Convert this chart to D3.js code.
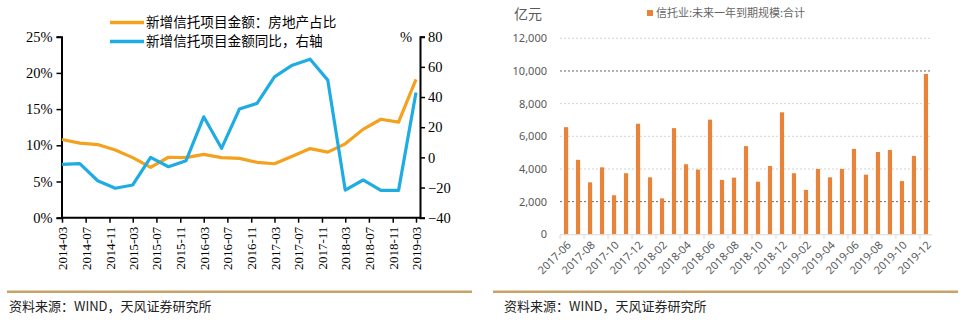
<!DOCTYPE html>
<html><head><meta charset="utf-8">
<script src="https://cdn.jsdelivr.net/npm/d3@7"></script>
<style>
html,body{margin:0;padding:0;background:#fff;}
svg{display:block;}
.serif text, text.serif{font-family:'Liberation Serif','Times New Roman',serif !important;}
</style></head>
<body>
<svg id="c" width="967" height="328"></svg>
<script>
// ---- Left chart data (quarterly) ----
const leftDates = ["2014-03","2014-06","2014-09","2014-12","2015-03","2015-06","2015-09","2015-12","2016-03","2016-06","2016-09","2016-12","2017-03","2017-06","2017-09","2017-12","2018-03","2018-06","2018-09","2018-12","2019-03"];
const realEstateShare = [10.8,10.3,10.1,9.35,8.3,6.95,8.35,8.3,8.75,8.3,8.2,7.65,7.45,8.5,9.55,9.05,10.2,12.2,13.6,13.2,19.1];
const newTrustYoY = [-4.6,-4.2,-15.5,-20.5,-18.3,0,-6.2,-2.2,26.9,6.0,32.0,35.8,53.4,61.1,65.1,51.2,-21.7,-15,-21.9,-21.9,43];
const leftTickLabels = ["2014-03","2014-07","2014-11","2015-03","2015-07","2015-11","2016-03","2016-07","2016-11","2017-03","2017-07","2017-11","2018-03","2018-07","2018-11","2019-03"];
const leftYTicks = [0,5,10,15,20,25];
const rightYTicks = [-40,-20,0,20,40,60,80];
const leftSeriesNames = ["新增信托项目金额：房地产占比","新增信托项目金额同比，右轴"];

// ---- Right chart data (monthly) ----
const barMonths = ["2017-06","2017-07","2017-08","2017-09","2017-10","2017-11","2017-12","2018-01","2018-02","2018-03","2018-04","2018-05","2018-06","2018-07","2018-08","2018-09","2018-10","2018-11","2018-12","2019-01","2019-02","2019-03","2019-04","2019-05","2019-06","2019-07","2019-08","2019-09","2019-10","2019-11","2019-12"];
const maturityValues = [6560,4560,3180,4100,2390,3740,6770,3490,2200,6500,4290,3960,7020,3330,3470,5400,3220,4180,7470,3740,2720,4000,3490,4000,5230,3650,5040,5160,3260,4800,9820];
const barYTicks = [0,2000,4000,6000,8000,10000,12000];
const barSeriesName = "信托业:未来一年到期规模:合计";
const sourceText = "资料来源：WIND，天风证券研究所";

const svg = d3.select("#c");
const parse = d3.timeParse("%Y-%m");
const ORANGE = "#F4A11E", BLUE = "#1FACE2", BAR = "#E8833A";

// ================= LEFT CHART =================
{
  const g = svg.append("g");
  const x = d3.scaleTime().domain([parse("2014-03"), parse("2019-03")]).range([62, 416]);
  const yL = d3.scaleLinear().domain([0, 25]).range([217.7, 36.7]);
  const yR = d3.scaleLinear().domain([-40, 80]).range([217.7, 36.7]);

  // left axis
  const axL = g.append("g").attr("class","serif").attr("transform","translate(61.5,0)")
    .call(d3.axisLeft(yL).tickValues(leftYTicks).tickSize(5).tickFormat(d => d + "%"));
  axL.select(".domain").attr("stroke","#000").attr("stroke-width",2);
  axL.selectAll(".tick line").attr("stroke","#000").attr("stroke-width",1.5);
  axL.selectAll("text").attr("font-size",14.5).attr("fill","#000").attr("x",-9);

  // right axis
  const axR = g.append("g").attr("class","serif").attr("transform","translate(420,0)")
    .call(d3.axisRight(yR).tickValues(rightYTicks).tickSize(5));
  axR.select(".domain").attr("stroke","#000").attr("stroke-width",2);
  axR.selectAll(".tick line").attr("stroke","#000").attr("stroke-width",1.5);
  axR.selectAll("text").attr("font-size",14.5).attr("fill","#000").attr("x",8);
  g.append("text").attr("class","serif").attr("x",412).attr("y",41.5).attr("text-anchor","end")
    .attr("font-size",14.5).text("%");

  // bottom axis
  const axB = g.append("g").attr("class","serif").attr("transform","translate(0,217.7)")
    .call(d3.axisBottom(x).tickValues(leftTickLabels.map(parse)).tickSize(5).tickFormat(d3.timeFormat("%Y-%m")));
  axB.select(".domain").remove();
  g.append("line").attr("x1",61).attr("x2",421).attr("y1",217.7).attr("y2",217.7).attr("stroke","#000").attr("stroke-width",2);
  axB.selectAll(".tick line").attr("stroke","#000").attr("stroke-width",1.5);
  axB.selectAll("text").attr("font-size",13).attr("fill","#000")
    .attr("transform","rotate(-90)").attr("text-anchor","end").attr("x",-9).attr("y",0).attr("dy","0.35em");

  const lineL = d3.line().x((d,i) => x(parse(leftDates[i]))).y(d => yL(d));
  const lineR = d3.line().x((d,i) => x(parse(leftDates[i]))).y(d => yR(d));
  g.append("path").datum(realEstateShare).attr("d",lineL).attr("fill","none")
    .attr("stroke",ORANGE).attr("stroke-width",3.2).attr("stroke-linejoin","round");
  g.append("path").datum(newTrustYoY).attr("d",lineR).attr("fill","none")
    .attr("stroke",BLUE).attr("stroke-width",3.2).attr("stroke-linejoin","round");

  // legend
  const cols = [ORANGE, BLUE];
  leftSeriesNames.forEach((name,i) => {
    const yy = 22.5 + i*19;
    g.append("line").attr("x1",110).attr("x2",144).attr("y1",yy).attr("y2",yy)
      .attr("stroke",cols[i]).attr("stroke-width",3.5);
    g.append("text").attr("x",146).attr("y",yy).attr("dy","0.35em")
      .attr("font-family","'Noto Sans CJK SC',sans-serif").attr("font-size",13.6).attr("fill","#000").text(name);
  });
}

// ================= RIGHT CHART =================
{
  const g = svg.append("g");
  const sans = "'Noto Sans','Liberation Sans',sans-serif";
  const x = d3.scaleBand().domain(barMonths).range([560, 932]).paddingInner(0.65).paddingOuter(0.33);
  const y = d3.scaleLinear().domain([0, 12000]).range([234.3, 38.3]);

  // gridlines
  g.selectAll(".grid").data(barYTicks.filter(d => d > 0)).join("line")
    .attr("x1",560).attr("x2",932).attr("y1",d => y(d)).attr("y2",d => y(d))
    .attr("stroke",d => (d === 2000 || d === 10000) ? "#666" : "#d4d4d4")
    .attr("stroke-width",1).attr("stroke-dasharray","2,2");

  const axY = g.append("g").attr("transform","translate(560,0)")
    .call(d3.axisLeft(y).tickValues(barYTicks).tickSize(0).tickFormat(d3.format(",")));
  axY.select(".domain").remove();
  axY.selectAll("text").attr("font-family",sans).attr("font-size",11).attr("fill","#595959").attr("x",-13);

  g.selectAll(".bar").data(maturityValues).join("rect")
    .attr("x",(d,i) => x(barMonths[i])).attr("width",x.bandwidth())
    .attr("y",d => y(d)).attr("height",d => y(0) - y(d)).attr("fill",BAR);

  // bottom axis
  g.append("line").attr("x1",560).attr("x2",932).attr("y1",234.8).attr("y2",234.8).attr("stroke","#d9d9d9").attr("stroke-width",1);
  const step = x.step();
  const x0 = x(barMonths[0]) - x.paddingInner()*step/2;
  const tickIdx = d3.range(0, barMonths.length + 1, 2);
  g.selectAll(".btick").data(tickIdx).join("line")
    .attr("x1",i => x0 + i*step).attr("x2",i => x0 + i*step)
    .attr("y1",234.8).attr("y2",239).attr("stroke","#d9d9d9");
  g.selectAll(".blab").data(barMonths.filter((d,i) => i % 2 === 0)).join("text")
    .attr("transform",d => `translate(${x(d) + x.bandwidth()/2 + 3},${243}) rotate(-45)`)
    .attr("text-anchor","end").attr("dy","0.35em")
    .attr("font-family",sans).attr("font-size",11).attr("fill","#595959").text(d => d);

  // unit & legend
  g.append("text").attr("x",514).attr("y",14).attr("dy","0.35em")
    .attr("font-family","'Noto Sans CJK SC',sans-serif").attr("font-size",14).attr("fill","#595959").text("亿元");
  g.append("rect").attr("x",647).attr("y",10).attr("width",6).attr("height",6).attr("fill",BAR);
  g.append("text").attr("x",656).attr("y",13.5).attr("dy","0.35em")
    .attr("font-family","'Noto Sans CJK SC',sans-serif").attr("font-size",11).attr("fill","#666").text(barSeriesName);
}

// ================= FOOTERS =================
svg.append("line").attr("x1",7).attr("x2",472).attr("y1",291.7).attr("y2",291.7).attr("stroke","#C9A265").attr("stroke-width",2.5);
svg.append("line").attr("x1",493).attr("x2",958).attr("y1",291.7).attr("y2",291.7).attr("stroke","#C9A265").attr("stroke-width",2.5);
[[9],[504]].forEach(([xx]) => {
  svg.append("text").attr("x",xx).attr("y",306.5).attr("dy","0.35em")
    .attr("font-family","'Noto Sans CJK SC',sans-serif").attr("font-size",13).attr("fill","#222").text(sourceText);
});
</script>
</body></html>
